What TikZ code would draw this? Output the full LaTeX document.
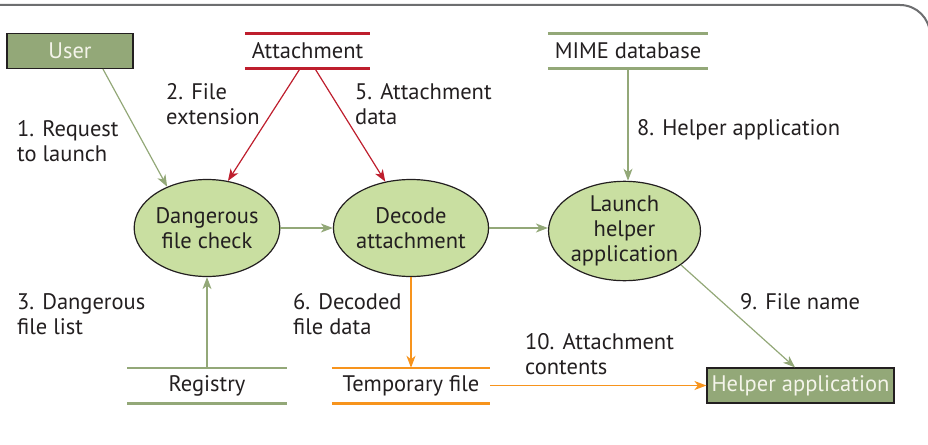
\documentclass[tikz,border=0pt]{standalone}
\usepackage{fontspec}
\setmainfont{PT Sans}
\usetikzlibrary{shapes.geometric,arrows.meta}
\definecolor{grn}{HTML}{93A878}
\definecolor{lgrn}{HTML}{C9DFA1}
\definecolor{attred}{HTML}{BE1E2D}
\definecolor{org}{HTML}{F7941D}
\definecolor{txt}{HTML}{231F20}
\definecolor{frm}{HTML}{6D6E70}
\definecolor{boxtxt}{HTML}{F4F4EA}
\begin{document}
\begin{tikzpicture}[x=1pt,y=-1pt,
  font=\fontsize{22.5}{25}\selectfont, text=txt,
  proc/.style={ellipse, draw=txt, line width=1.2pt, fill=lgrn, minimum width=139pt, minimum height=97pt, inner sep=0pt, align=center},
  ext/.style={rectangle, draw=txt, line width=1.2pt, fill=grn, text=boxtxt, inner sep=0pt, minimum height=35pt},
  store/.style={rectangle, inner sep=0pt, minimum height=35pt},
  lbl/.style={anchor=base west, align=left, inner sep=0pt},
  flow/.style={line width=1.2pt, -{Stealth[length=12pt,width=9pt,inset=3.5pt]}},
  storeline/.style={line width=2.6pt}
]
\useasboundingbox (0,0) rectangle (928,444);
\begin{scope}
  \clip (0,0) rectangle (928,444);
  \draw[frm, line width=2pt] (-5,5) -- (900,5) arc[start angle=-90, end angle=0, radius=30] -- (930,500);
\end{scope}

% external entities
\node[ext, minimum width=126pt] (user) at (70,51) {User};
\node[ext, minimum width=187pt] (helper) at (800.5,385.5) {Helper application};

% stores
\node[store, minimum width=125pt] (att) at (307.5,51) {Attachment};
\node[store, minimum width=160pt] (mime) at (628,51) {MIME database};
\node[store, minimum width=159pt] (reg) at (207,385.5) {Registry};
\node[store, minimum width=158pt] (tmp) at (411,385.5) {Temporary file};

\draw[storeline, attred] (att.north west) -- (att.north east) (att.south west) -- (att.south east);
\draw[storeline, grn] (mime.north west) -- (mime.north east) (mime.south west) -- (mime.south east);
\draw[storeline, grn] (reg.north west) -- (reg.north east) (reg.south west) -- (reg.south east);
\draw[storeline, org] (tmp.north west) -- (tmp.north east) (tmp.south west) -- (tmp.south east);

% processes
\node[proc] (dfc) at (207,228) {Dangerous\\file check};
\node[proc] (dec) at (411,228) {Decode\\attachment};
\node[proc] (launch) at (624.5,231) {Launch\\helper\\application};

% flows
\draw[flow, grn] ([xshift=33pt]user.south) -- (dfc.134);
\draw[flow, attred] ([xshift=-7.5pt]att.south) -- (dfc.66);
\draw[flow, attred] ([xshift=7.5pt]att.south) -- (dec.119);
\draw[flow, grn] (mime.south) -- (mime.south |- launch.north);
\draw[flow, grn] (dfc.east) -- (dec.west);
\draw[flow, grn] (dec.east) -- (launch.west |- dec.east);
\draw[flow, grn] (reg.north) -- (dfc.south);
\draw[flow, org] (dec.south) -- (tmp.north);
\draw[flow, org] (tmp.east) -- (helper.west);
\draw[flow, grn] (launch.-31) -- ([xshift=-5.5pt]helper.north);

% labels (base anchor = baseline of last line)
\node[lbl] (l1) at (17,161) {1. Request\\to launch};
\node[lbl] (l2) at (166,124) {2. File\\extension};
\node[lbl] (l5) at (355,124) {5. Attachment\\data};
\node[lbl] (l8) at (637,135) {8. Helper application};
\node[lbl] (l3) at (17,334) {3. Dangerous\\file list};
\node[lbl] (l6) at (293,334) {6. Decoded\\file data};
\node[lbl] (l10) at (525,374) {10. Attachment\\contents};
\node[lbl] (l9) at (740,309) {9. File name};
\end{tikzpicture}
\end{document}
